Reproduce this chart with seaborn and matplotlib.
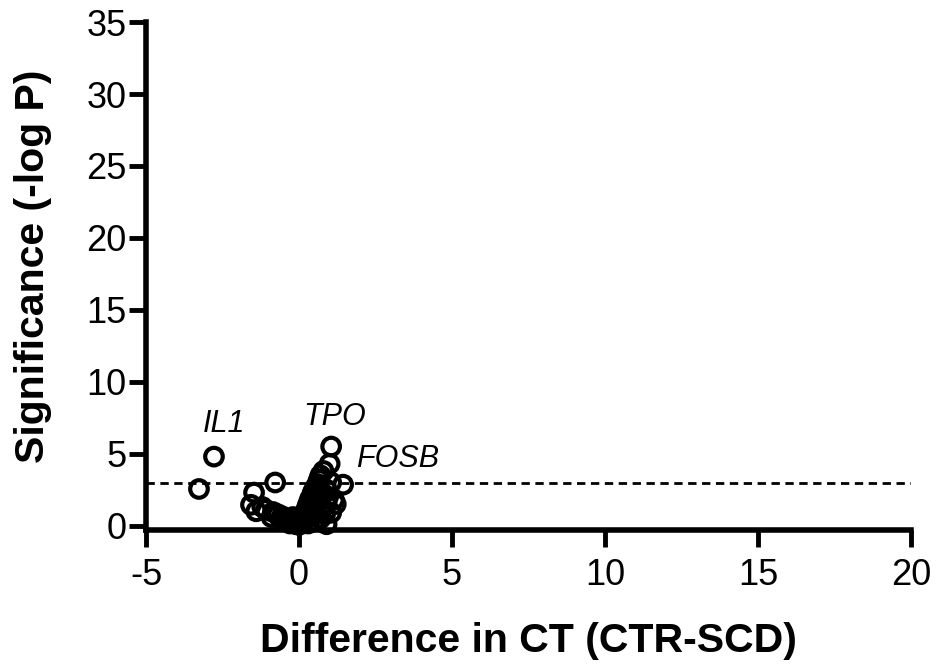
import matplotlib
matplotlib.use("Agg")
import matplotlib.pyplot as plt
import seaborn as sns
import pandas as pd

# Difference in CT (CTR-SCD) and significance (-log P) per gene
diff_ct = [-3.27, -2.78, -0.78, 1.05, 1.00, 1.44,
           -1.47, -1.57, -1.40, -1.08, -0.85, -0.70, -0.55, -0.45, -0.35, -0.25,
           -0.20, -0.15, -0.10, -0.05, 0.00, 0.05, -0.60, -0.30, -0.90, -1.20,
           0.10, 0.15, 0.20, 0.25, 0.30, 0.35, 0.40, 0.45, 0.50, 0.55, 0.60,
           0.65, 0.70, 0.80, 0.30, 0.40, 0.50, 0.60, 0.70, 0.80, 0.90, 1.14,
           1.20, 0.90, 1.05, 0.85, 0.70, 0.50, 0.30, 0.20, 0.75, 0.95, 1.05,
           0.60, 0.45, 0.90]
neg_log_p = [2.55, 4.80, 3.00, 5.50, 4.30, 2.85,
             2.30, 1.45, 1.00, 1.10, 0.95, 0.80, 0.65, 0.50, 0.40, 0.30,
             0.60, 0.20, 0.10, 0.35, 0.05, 0.20, 0.45, 0.15, 0.60, 1.30,
             0.30, 0.60, 0.90, 1.20, 1.50, 1.80, 2.00, 2.30, 2.50, 2.70, 2.90,
             3.20, 3.50, 3.80, 0.70, 1.00, 1.30, 1.60, 1.90, 2.20, 2.50, 1.80,
             1.50, 1.50, 0.90, 0.80, 0.50, 0.30, 0.15, 0.40, 1.20, 2.00, 3.00,
             2.20, 1.60, 0.10]

threshold = 3.0
labels = ["IL1", "TPO", "FOSB"]
label_x = [-3.14, 0.13, 1.86]
label_y = [6.54, 7.03, 4.10]

x_ticks = [-5, 0, 5, 10, 15, 20]
y_ticks = [0, 5, 10, 15, 20, 25, 30, 35]

df = pd.DataFrame({"diff": diff_ct, "sig": neg_log_p})

sns.set_style("ticks")
plt.rcParams["font.family"] = ["Liberation Sans", "DejaVu Sans"]
for k in ["text.color", "axes.labelcolor", "xtick.color", "ytick.color", "axes.edgecolor"]:
    plt.rcParams[k] = "black"

fig = plt.figure(figsize=(9.38, 6.69), dpi=100)
ax = fig.add_axes([0.1557, 0.2078, 0.8155, 0.7592])

sns.scatterplot(data=df, x="diff", y="sig", ax=ax, s=160, marker="o",
                facecolor="none", edgecolor="black", linewidth=3,
                clip_on=False, zorder=3)

ax.axhline(threshold, color="black", linestyle=(0, (3, 2)), linewidth=2, zorder=2)

for t, lx, ly in zip(labels, label_x, label_y):
    ax.text(lx, ly, t, fontsize=22, fontstyle="italic", ha="left", va="baseline")

ax.set_xlim(-5, 20)
ax.set_ylim(-0.3, 35)
ax.set_xticks(x_ticks)
ax.set_yticks(y_ticks)
ax.set_xticklabels([str(v) for v in x_ticks])
ax.set_yticklabels([str(v) for v in y_ticks])
sns.despine(ax=ax)
for s in ["left", "bottom"]:
    ax.spines[s].set_linewidth(4)
    ax.spines[s].set_capstyle("projecting")
ax.tick_params(axis="both", width=3.5, length=12, labelsize=26)
ax.tick_params(axis="x", pad=8)
ax.tick_params(axis="y", pad=2)

ax.set_xlabel("Difference in CT (CTR-SCD)", fontsize=29.5, fontweight="bold")
ax.set_ylabel("Significance (-log P)", fontsize=29.5, fontweight="bold")
ax.xaxis.set_label_coords(0.5, -0.181)
ax.yaxis.set_label_coords(-0.123, 0.52)

fig.savefig("out.png", dpi=100)
